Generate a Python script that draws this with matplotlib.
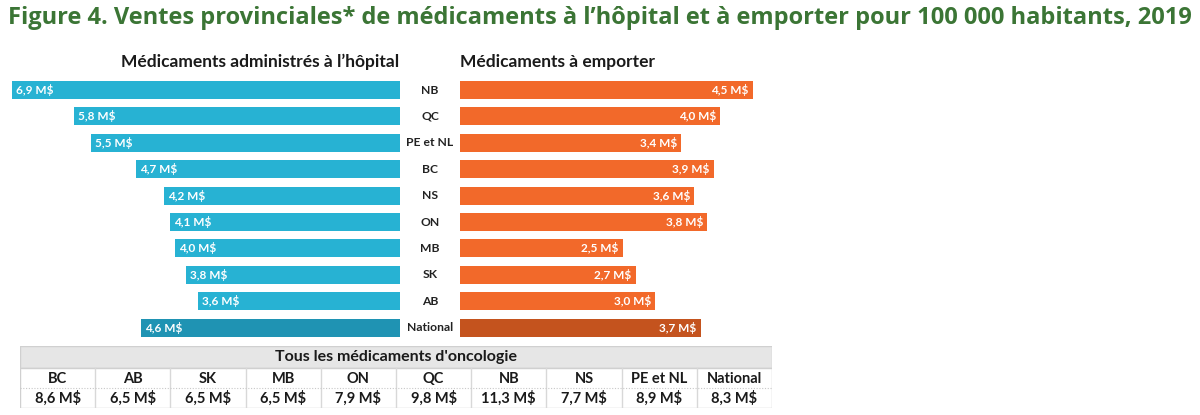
import matplotlib.pyplot as plt
import matplotlib.transforms as mtransforms
import numpy as np

plt.rcParams['font.family'] = ['Lato', 'DejaVu Sans']

# %% data
provinces = ['NB', 'QC', 'PE et NL', 'BC', 'NS', 'ON', 'MB', 'SK', 'AB', 'National']
hospital = [6.9, 5.8, 5.5, 4.7, 4.2, 4.1, 4.0, 3.8, 3.6, 4.6]
retail = [4.5, 4.0, 3.4, 3.9, 3.6, 3.8, 2.5, 2.7, 3.0, 3.7]

onco_labels = ['BC', 'AB', 'SK', 'MB', 'ON', 'QC', 'NB', 'NS', 'PE et NL', 'National']
onco_values = [8.6, 6.5, 6.5, 6.5, 7.9, 9.8, 11.3, 7.7, 8.9, 8.3]

title = ("Figure 4. Ventes provinciales* de médicaments à l\u2019hôpital "
         "et à emporter pour 100 000 habitants, 2019")

def fmt(v):
    return ('%.1f M$' % v).replace('.', ',')

blue, blue_dark = '#27b2d3', '#1f93b3'
orange, orange_dark = '#f2692a', '#c4531e'
W, H = 1200, 415

fig = plt.figure(figsize=(12, 4.15), dpi=100)
fig.patch.set_facecolor('white')

fig.text(8 / W, 1 - 18 / H, title, family='Open Sans', weight='bold',
         size=17, color='#3b7535', ha='left', va='center')

# %% bar panels
bot, hgt = 1 - 340.8 / H, 264 / H
ax_l = fig.add_axes([(400 - 7 * 56.2) / W, bot, 7 * 56.2 / W, hgt])
ax_r = fig.add_axes([460 / W, bot, 5 * 65 / W, hgt])

y = np.arange(len(provinces))
cl = [blue] * (len(provinces) - 1) + [blue_dark]
cr = [orange] * (len(provinces) - 1) + [orange_dark]

ax_l.barh(y, hospital, height=0.68, color=cl)
ax_r.barh(y, retail, height=0.68, color=cr)
ax_l.set_xlim(7, 0)
ax_r.set_xlim(0, 5)
for ax in (ax_l, ax_r):
    ax.set_ylim(len(provinces) - 0.5, -0.5)
    ax.axis('off')

off = mtransforms.ScaledTranslation(4 / 100, 0, fig.dpi_scale_trans)
for i, v in enumerate(hospital):
    ax_l.text(v, i, fmt(v), transform=ax_l.transData + off, ha='left',
              va='center', color='white', weight='bold', size=8.5)
off_r = mtransforms.ScaledTranslation(-4 / 100, 0, fig.dpi_scale_trans)
for i, v in enumerate(retail):
    ax_r.text(v, i, fmt(v), transform=ax_r.transData + off_r, ha='right',
              va='center', color='white', weight='bold', size=8.5)

tr = mtransforms.blended_transform_factory(fig.transFigure, ax_r.transData)
for i, p in enumerate(provinces):
    fig.text(430 / W, i, p, transform=tr, ha='center', va='center',
             weight='bold', size=8.7, color='#222222')

fig.text(399 / W, 1 - 62 / H, 'Médicaments administrés à l\u2019hôpital',
         ha='right', va='center', weight='bold', size=12.5, color='#1a1a1a')
fig.text(460 / W, 1 - 62 / H, 'Médicaments à emporter',
         ha='left', va='center', weight='bold', size=12.5, color='#1a1a1a')

# %% oncology table
ax_t = fig.add_axes([20 / W, 1 - 408 / H, 752 / W, 62 / H])
n = len(onco_labels)
ax_t.set_xlim(0, n)
ax_t.set_ylim(0, 62)
ax_t.axis('off')
ax_t.add_patch(plt.Rectangle((0, 40), n, 22, facecolor='#e6e6e6',
                             edgecolor='#d0d0d0', lw=1))
ax_t.add_patch(plt.Rectangle((0, 0), n, 40, facecolor='white',
                             edgecolor='#d0d0d0', lw=1))
ax_t.text(n / 2, 51, "Tous les médicaments d'oncologie", ha='center',
          va='center', weight='bold', size=11.5, color='#1a1a1a')
for k in range(1, n):
    ax_t.plot([k, k], [0, 40], color='#d8d8d8', lw=1)
ax_t.plot([0, n], [20, 20], color='#c8c8c8', lw=0.8, ls=(0, (1, 1.5)))
for k, (lab, v) in enumerate(zip(onco_labels, onco_values)):
    ax_t.text(k + 0.5, 29, lab, ha='center', va='center', weight='bold',
              size=10.5, color='#1a1a1a')
    ax_t.text(k + 0.5, 10, fmt(v), ha='center', va='center', weight='bold',
              size=10.5, color='#1a1a1a')

fig.savefig('out.png', dpi=100, facecolor='white')
